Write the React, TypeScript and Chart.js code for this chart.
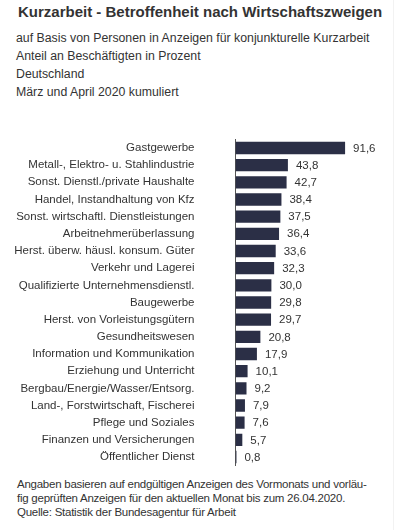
import { useEffect, useRef } from "react"
import { Chart, registerables } from "chart.js"

Chart.register(...registerables)

const categories = [
  "Gastgewerbe",
  "Metall-, Elektro- u. Stahlindustrie",
  "Sonst. Dienstl./private Haushalte",
  "Handel, Instandhaltung von Kfz",
  "Sonst. wirtschaftl. Dienstleistungen",
  "Arbeitnehmerüberlassung",
  "Herst. überw. häusl. konsum. Güter",
  "Verkehr und Lagerei",
  "Qualifizierte Unternehmensdienstl.",
  "Baugewerbe",
  "Herst. von Vorleistungsgütern",
  "Gesundheitswesen",
  "Information und Kommunikation",
  "Erziehung und Unterricht",
  "Bergbau/Energie/Wasser/Entsorg.",
  "Land-, Forstwirtschaft, Fischerei",
  "Pflege und Soziales",
  "Finanzen und Versicherungen",
  "Öffentlicher Dienst",
]

const shares = [91.6, 43.8, 42.7, 38.4, 37.5, 36.4, 33.6, 32.3, 30.0, 29.8, 29.7, 20.8, 17.9, 10.1, 9.2, 7.9, 7.6, 5.7, 0.8]

const subtitleLines = [
  "auf Basis von Personen in Anzeigen für konjunkturelle Kurzarbeit",
  "Anteil an Beschäftigten in Prozent",
  "Deutschland",
  "März und April 2020 kumuliert",
]

const footnoteLines = [
  "Angaben basieren auf endgültigen Anzeigen des Vormonats und vorläu-",
  "fig geprüften Anzeigen für den aktuellen Monat bis zum 26.04.2020.",
  "Quelle: Statistik der Bundesagentur für Arbeit",
]

const FONT = "'Liberation Sans', Arial, sans-serif"

// writes the value right of each bar, German decimal comma
const valueLabels = {
  id: "valueLabels",
  afterDatasetsDraw(chart: any) {
    const ctx = chart.ctx
    const meta = chart.getDatasetMeta(0)
    ctx.save()
    ctx.font = `11.5px ${FONT}`
    ctx.fillStyle = "#333"
    ctx.textAlign = "left"
    ctx.textBaseline = "middle"
    meta.data.forEach((bar: any, i: number) => {
      ctx.fillText(shares[i].toFixed(1).replace(".", ","), bar.x + 8, bar.y + 0.5)
    })
    ctx.restore()
  },
}

function BarChart() {
  const chartRef = useRef<HTMLCanvasElement>(null)
  const chartInstance = useRef<Chart | null>(null)

  useEffect(() => {
    if (!chartRef.current) return
    if (chartInstance.current) chartInstance.current.destroy()

    chartInstance.current = new Chart(chartRef.current, {
      type: "bar",
      data: {
        labels: categories,
        datasets: [
          {
            data: shares,
            backgroundColor: "#2b2f46",
            barPercentage: 0.72,
            categoryPercentage: 1,
          },
        ],
      },
      options: {
        indexAxis: "y",
        animation: false,
        responsive: true,
        maintainAspectRatio: false,
        layout: { padding: { top: 9.4, bottom: 4.4, left: 0, right: 11 } },
        scales: {
          x: { display: false, min: 0, max: 140 },
          y: {
            afterFit: (scale: any) => {
              // fixed label column, and no extra vertical padding from the tick gap
              scale.width = 235.5
              scale.paddingTop = 0
              scale.paddingBottom = 0
            },
            grid: { display: false, drawTicks: false },
            border: { display: true, color: "#555", width: 1 },
            ticks: {
              padding: 41,
              color: "#333",
              font: { family: FONT, size: 11.5 },
              autoSkip: false,
            },
          },
        },
        plugins: {
          legend: { display: false },
          tooltip: { enabled: false },
        },
      },
      plugins: [valueLabels],
    })

    return () => {
      if (chartInstance.current) {
        chartInstance.current.destroy()
        chartInstance.current = null
      }
    }
  }, [])

  return (
    <div style={{ position: "absolute", left: 0, top: 130, width: 414, height: 340 }}>
      <canvas ref={chartRef}></canvas>
    </div>
  )
}

export default function App() {
  return (
    <div
      style={{
        position: "absolute",
        left: 0,
        top: 0,
        width: 414,
        height: 530,
        background: "#fff",
        fontFamily: FONT,
        color: "#333",
        overflow: "hidden",
      }}
    >
      <div style={{ position: "absolute", left: 393, top: 0, width: 1, height: 530, background: "#f2f2f2" }} />
      <div style={{ position: "absolute", left: 18, top: 3, fontSize: 15, fontWeight: "bold", whiteSpace: "nowrap" }}>
        Kurzarbeit - Betroffenheit nach Wirtschaftszweigen
      </div>
      {subtitleLines.map((line, i) => (
        <div
          key={i}
          style={{ position: "absolute", left: 16, top: 30 + i * 18, fontSize: 12.3, lineHeight: "16px", whiteSpace: "nowrap" }}
        >
          {line}
        </div>
      ))}
      <BarChart />
      {footnoteLines.map((line, i) => (
        <div
          key={i}
          style={{
            position: "absolute",
            left: 17,
            top: 477 + i * 13.8,
            fontSize: 11.5,
            lineHeight: "14px",
            letterSpacing: "-0.25px",
            whiteSpace: "nowrap",
          }}
        >
          {line}
        </div>
      ))}
    </div>
  )
}
